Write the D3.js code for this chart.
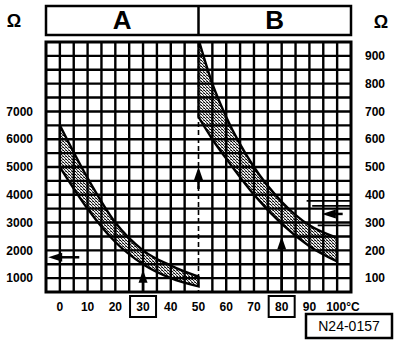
<!DOCTYPE html>
<html>
<head>
<meta charset="utf-8">
<script src="https://cdn.jsdelivr.net/npm/d3@7"></script>
<style>
  html, body { margin: 0; padding: 0; background: #fff; }
  svg { display: block; }
  text { font-family: "Liberation Sans", Arial, sans-serif; fill: #000; }
</style>
</head>
<body>
<svg id="chart" width="416" height="344"></svg>
<script>
// Sensor characteristic A (left scale, Ω) and B (right scale, Ω) versus coolant temperature
const tempA = [0, 10, 20, 30, 40, 50];
const upperA = [6500, 4600, 3000, 2000, 1450, 1050];
const lowerA = [5000, 3500, 2300, 1500, 1000, 700];

const tempB = [50, 55, 60, 70, 80, 90, 100];
const upperB = [960, 800, 680, 500, 375, 290, 245];
const lowerB = [680, 600, 530, 400, 295, 215, 160];

const xTicks = [0, 10, 20, 30, 40, 50, 60, 70, 80, 90, 100];
const xTickLabels = ["0", "10", "20", "30", "40", "50", "60", "70", "80", "90", "100°C"];
const boxedTicks = [30, 80];
const leftTicks = [1000, 2000, 3000, 4000, 5000, 6000, 7000];
const rightTicks = [100, 200, 300, 400, 500, 600, 700, 800, 900];
const panels = ["A", "B"];
const unitLabel = "Ω";
const figureCode = "N24-0157";

// Reading marks: arrows and reference lines
const arrowUpLeft = { t: 30, tip: 1300 };          // left scale
const arrowUpMid = { t: 50, tip: 500 };            // right scale
const arrowUpRight = { t: 80, tip: 250 };          // right scale
const arrowLeftA = { v: 1750, from: 7, to: -4.2 }; // left scale
const arrowLeftB = { v: 331, from: 102, to: 94.5 };// right scale
const refLinesB = [
  { v: 378, from: 89 },
  { v: 360, from: 91 },
  { v: 290, from: 93 }
];

const svg = d3.select("#chart");

const plot = { left: 46, right: 351, top: 42, bottom: 292 };
const x = d3.scaleLinear().domain([-5, 105]).range([plot.left, plot.right]);
const yL = d3.scaleLinear().domain([500, 9500]).range([plot.bottom, plot.top]);
const yR = d3.scaleLinear().domain([50, 950]).range([plot.bottom, plot.top]);

// Halftone fill for the tolerance bands
const defs = svg.append("defs");
const pat = defs.append("pattern")
  .attr("id", "halftone").attr("patternUnits", "userSpaceOnUse")
  .attr("width", 3).attr("height", 3);
pat.append("rect").attr("width", 3).attr("height", 3).attr("fill", "#e8e8e8");
pat.append("rect").attr("x", 0).attr("y", 0).attr("width", 1).attr("height", 1).attr("fill", "#000");
pat.append("rect").attr("x", 1).attr("y", 1).attr("width", 1).attr("height", 1).attr("fill", "#222");
pat.append("rect").attr("x", 2).attr("y", 2).attr("width", 1).attr("height", 1).attr("fill", "#444");
pat.append("rect").attr("x", 2).attr("y", 0).attr("width", 1).attr("height", 1).attr("fill", "#666");

defs.append("clipPath").attr("id", "plotClip")
  .append("rect")
  .attr("x", plot.left).attr("y", plot.top)
  .attr("width", plot.right - plot.left).attr("height", plot.bottom - plot.top);

// Header with panel letters
const head = { top: 6, bottom: 35 };
svg.append("rect")
  .attr("x", plot.left).attr("y", head.top)
  .attr("width", plot.right - plot.left).attr("height", head.bottom - head.top)
  .attr("fill", "none").attr("stroke", "#000").attr("stroke-width", 2.5);
svg.append("line")
  .attr("x1", x(50)).attr("x2", x(50)).attr("y1", head.top).attr("y2", head.bottom)
  .attr("stroke", "#000").attr("stroke-width", 2.5);
svg.selectAll("text.panel").data(panels).join("text")
  .attr("class", "panel")
  .attr("x", (d, i) => i === 0 ? x(22.5) : x(77.5))
  .attr("y", 29)
  .attr("text-anchor", "middle")
  .attr("font-size", 26).attr("font-weight", "bold")
  .text(d => d);

// Unit symbols
svg.append("text").attr("x", 14).attr("y", 27).attr("text-anchor", "middle")
  .attr("font-size", 18).attr("font-weight", "bold").text(unitLabel);
svg.append("text").attr("x", 381).attr("y", 28).attr("text-anchor", "middle")
  .attr("font-size", 18).attr("font-weight", "bold").text(unitLabel);

// Tolerance bands
const bandA = tempA.map((t, i) => ({ t, lo: lowerA[i], hi: upperA[i] }));
const bandB = tempB.map((t, i) => ({ t, lo: lowerB[i], hi: upperB[i] }));

const areaA = d3.area().curve(d3.curveMonotoneX)
  .x(d => x(d.t)).y0(d => yL(d.lo)).y1(d => yL(d.hi));
const areaB = d3.area().curve(d3.curveMonotoneX)
  .x(d => x(d.t)).y0(d => yR(d.lo)).y1(d => yR(d.hi));

const bands = svg.append("g").attr("clip-path", "url(#plotClip)");
bands.append("path").attr("d", areaA(bandA)).attr("fill", "url(#halftone)");
bands.append("path").attr("d", areaB(bandB)).attr("fill", "url(#halftone)");

// Grid: squares every 5 °C and every 500 Ω (left) / 50 Ω (right)
const grid = svg.append("g");
const vLines = d3.range(0, 105, 5).filter(t => t !== 50);
grid.selectAll("line.v").data(vLines).join("line")
  .attr("x1", d => x(d)).attr("x2", d => x(d))
  .attr("y1", plot.top).attr("y2", plot.bottom)
  .attr("stroke", "#000").attr("stroke-width", 2.4);
const hLines = d3.range(1000, 9500, 500);
grid.selectAll("line.h").data(hLines).join("line")
  .attr("x1", plot.left).attr("x2", plot.right)
  .attr("y1", d => yL(d)).attr("y2", d => yL(d))
  .attr("stroke", "#000").attr("stroke-width", 2.4);
grid.append("line")
  .attr("x1", x(50)).attr("x2", x(50)).attr("y1", plot.top).attr("y2", plot.bottom)
  .attr("stroke", "#000").attr("stroke-width", 1.6).attr("stroke-dasharray", "5,3");
grid.append("rect")
  .attr("x", plot.left).attr("y", plot.top)
  .attr("width", plot.right - plot.left).attr("height", plot.bottom - plot.top)
  .attr("fill", "none").attr("stroke", "#000").attr("stroke-width", 3);

// Band outlines
const outlines = svg.append("g").attr("clip-path", "url(#plotClip)");
outlines.append("path").attr("d", areaA(bandA))
  .attr("fill", "none").attr("stroke", "#000").attr("stroke-width", 2.4);
outlines.append("path").attr("d", areaB(bandB))
  .attr("fill", "none").attr("stroke", "#000").attr("stroke-width", 2.4);

// Arrows
function arrowUp(px, tipY, baseY) {
  svg.append("line").attr("x1", px).attr("x2", px).attr("y1", tipY + 10).attr("y2", baseY)
    .attr("stroke", "#000").attr("stroke-width", 2.5);
  svg.append("path")
    .attr("d", `M${px},${tipY} L${px - 4.5},${tipY + 13} L${px + 4.5},${tipY + 13} Z`)
    .attr("fill", "#000");
}
function arrowLeft(tipX, tailX, py) {
  svg.append("line").attr("x1", tipX + 10).attr("x2", tailX).attr("y1", py).attr("y2", py)
    .attr("stroke", "#000").attr("stroke-width", 2.5);
  svg.append("path")
    .attr("d", `M${tipX},${py} L${tipX + 14},${py - 4.5} L${tipX + 14},${py + 4.5} Z`)
    .attr("fill", "#000");
}
arrowUp(x(arrowUpLeft.t), yL(arrowUpLeft.tip), plot.bottom);
arrowUp(x(arrowUpMid.t), yR(arrowUpMid.tip), yR(arrowUpMid.tip) + 22);
arrowUp(x(arrowUpRight.t), yR(arrowUpRight.tip), plot.bottom);
arrowLeft(x(arrowLeftA.to), x(arrowLeftA.from), yL(arrowLeftA.v));
arrowLeft(x(arrowLeftB.to), x(arrowLeftB.from), yR(arrowLeftB.v));

svg.selectAll("line.ref").data(refLinesB).join("line")
  .attr("x1", d => x(d.from)).attr("x2", plot.right)
  .attr("y1", d => yR(d.v)).attr("y2", d => yR(d.v))
  .attr("stroke", "#000").attr("stroke-width", 1.8);

// Axis labels
const labelFont = 12;
svg.selectAll("text.xl").data(xTicks).join("text")
  .attr("class", "xl")
  .attr("x", (d, i) => i === xTicks.length - 1 ? x(d) - 11 : x(d))
  .attr("y", 311)
  .attr("text-anchor", (d, i) => i === xTicks.length - 1 ? "start" : "middle")
  .attr("font-size", labelFont).attr("font-weight", "bold")
  .text((d, i) => xTickLabels[i]);

svg.selectAll("rect.box").data(boxedTicks).join("rect")
  .attr("class", "box")
  .attr("x", d => x(d) - 13).attr("y", 296)
  .attr("width", 26).attr("height", 21)
  .attr("fill", "none").attr("stroke", "#000").attr("stroke-width", 2);

svg.selectAll("text.yl").data(leftTicks).join("text")
  .attr("class", "yl")
  .attr("x", 33).attr("y", d => yL(d) + 1)
  .attr("dominant-baseline", "middle")
  .attr("text-anchor", "end")
  .attr("font-size", labelFont).attr("font-weight", "bold")
  .text(d => d);

svg.selectAll("text.yr").data(rightTicks).join("text")
  .attr("class", "yr")
  .attr("x", 365).attr("y", d => yR(d) + 1)
  .attr("dominant-baseline", "middle")
  .attr("font-size", labelFont).attr("font-weight", "bold")
  .text(d => d);

// Figure reference code
svg.append("rect").attr("x", 306).attr("y", 314).attr("width", 86).attr("height", 24)
  .attr("fill", "none").attr("stroke", "#000").attr("stroke-width", 2.5);
svg.append("text").attr("x", 349).attr("y", 331).attr("text-anchor", "middle")
  .attr("font-size", 14).text(figureCode);
</script>
</body>
</html>
